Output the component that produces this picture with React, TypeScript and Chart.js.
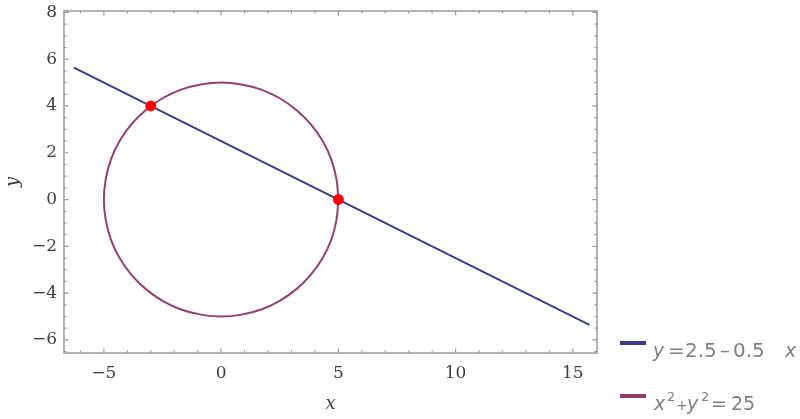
import React, { useEffect, useRef } from "react";
import { Chart, registerables } from "chart.js";

Chart.register(...registerables);

// ---- data ----
const xTickValues = [-5, 0, 5, 10, 15];
const yTickValues = [-6, -4, -2, 0, 2, 4, 6, 8];
const xMinorTicks = [-6, -5, -4, -3, -2, -1, 0, 1, 2, 3, 4, 5, 6, 7, 8, 9, 10, 11, 12, 13, 14, 15, 16];
const yMinorTicks = [-6.5, -6, -5.5, -5, -4.5, -4, -3.5, -3, -2.5, -2, -1.5, -1, -0.5, 0, 0.5, 1, 1.5, 2, 2.5, 3, 3.5, 4, 4.5, 5, 5.5, 6, 6.5, 7, 7.5, 8];

const lineX = [-6.28, 15.71];
const lineY = [5.64, -5.355];

const circleX = [5, 4.92, 4.7, 4.33, 3.83, 3.21, 2.5, 1.71, 0.87, 0, -0.87, -1.71, -2.5, -3.21, -3.83, -4.33, -4.7, -4.92, -5, -4.92, -4.7, -4.33, -3.83, -3.21, -2.5, -1.71, -0.87, 0, 0.87, 1.71, 2.5, 3.21, 3.83, 4.33, 4.7, 4.92, 5];
const circleY = [0, 0.87, 1.71, 2.5, 3.21, 3.83, 4.33, 4.7, 4.92, 5, 4.92, 4.7, 4.33, 3.83, 3.21, 2.5, 1.71, 0.87, 0, -0.87, -1.71, -2.5, -3.21, -3.83, -4.33, -4.7, -4.92, -5, -4.92, -4.7, -4.33, -3.83, -3.21, -2.5, -1.71, -0.87, 0];

const pointX = [-3, 5];
const pointY = [4, 0];

const X_MIN = -6.7;
const X_MAX = 16.03;
const Y_MIN = -6.56;
const Y_MAX = 8.06;

const LINE_COLOR = "#3c3c8e";
const CIRCLE_COLOR = "#953f6f";
const POINT_COLOR = "#ff0000";
const FRAME_COLOR = "#9a9a9a";
const TICK_TEXT = "#3f3f3f";
const LEGEND_TEXT = "#808080";

const fmt = (v: number) => (v < 0 ? "\u2212" + Math.abs(v) : String(v));

const framePlugin = {
  id: "frameTicks",
  afterDraw(chart: any) {
    const { ctx, chartArea } = chart;
    const { left, right, top, bottom } = chartArea;
    const xs = chart.scales.x;
    const ys = chart.scales.y;
    ctx.save();
    ctx.strokeStyle = FRAME_COLOR;
    ctx.lineWidth = 1.5;
    ctx.strokeRect(left, top, right - left, bottom - top);
    ctx.lineWidth = 1.2;
    ctx.beginPath();
    xMinorTicks.forEach((v) => {
      const px = xs.getPixelForValue(v);
      const len = xTickValues.includes(v) ? 4.5 : 2.5;
      ctx.moveTo(px, bottom);
      ctx.lineTo(px, bottom - len);
      ctx.moveTo(px, top);
      ctx.lineTo(px, top + len);
    });
    yMinorTicks.forEach((v) => {
      const py = ys.getPixelForValue(v);
      const len = yTickValues.includes(v) ? 4.5 : 2.5;
      ctx.moveTo(left, py);
      ctx.lineTo(left + len, py);
      ctx.moveTo(right, py);
      ctx.lineTo(right - len, py);
    });
    ctx.stroke();

    // legend
    ctx.lineWidth = 4;
    ctx.strokeStyle = LINE_COLOR;
    ctx.beginPath();
    ctx.moveTo(620, 343);
    ctx.lineTo(646, 343);
    ctx.stroke();
    ctx.strokeStyle = CIRCLE_COLOR;
    ctx.beginPath();
    ctx.moveTo(620, 396);
    ctx.lineTo(646, 396);
    ctx.stroke();

    ctx.fillStyle = LEGEND_TEXT;
    ctx.textBaseline = "alphabetic";
    ctx.textAlign = "left";
    const it = 'italic 19px "DejaVu Sans"';
    const rg = '20px "DejaVu Sans"';
    const rg2 = '19px "DejaVu Sans"';
    const small = '14px "DejaVu Sans"';
    const sup = '13px "DejaVu Sans"';
    const b1 = 357;
    ctx.font = it; ctx.fillText("y", 653, b1);
    ctx.font = rg; ctx.fillText("=", 668, b1);
    ctx.fillText("2.5", 685, b1);
    ctx.fillText("\u2013", 720, b1);
    ctx.fillText("0.5", 733, b1);
    ctx.font = it; ctx.fillText("x", 785, b1);

    const b2 = 410;
    ctx.font = it; ctx.fillText("x", 654, b2);
    ctx.font = sup; ctx.fillText("2", 667, b2 - 9);
    ctx.font = small; ctx.fillText("+", 676, b2);
    ctx.font = it; ctx.fillText("y", 687, b2);
    ctx.font = sup; ctx.fillText("2", 701, b2 - 9);
    ctx.font = rg2; ctx.fillText("=", 711, b2);
    ctx.fillText("25", 731, b2);
    ctx.restore();
  },
};

export default function App() {
  const ref = useRef<HTMLCanvasElement>(null);
  useEffect(() => {
    if (!ref.current) return;
    const chart = new Chart(ref.current, {
      type: "scatter",
      data: {
        datasets: [
          {
            label: "points",
            data: pointX.map((x, i) => ({ x, y: pointY[i] })),
            backgroundColor: POINT_COLOR,
            borderColor: POINT_COLOR,
            pointRadius: 5,
            showLine: false,
          },
          {
            label: "y = 2.5 - 0.5 x",
            data: lineX.map((x, i) => ({ x, y: lineY[i] })),
            borderColor: LINE_COLOR,
            borderWidth: 2,
            pointRadius: 0,
            showLine: true,
          },
          {
            label: "x^2 + y^2 = 25",
            data: circleX.map((x, i) => ({ x, y: circleY[i] })),
            borderColor: CIRCLE_COLOR,
            borderWidth: 2,
            pointRadius: 0,
            showLine: true,
            tension: 0.4,
          },
        ],
      },
      options: {
        animation: false,
        responsive: true,
        maintainAspectRatio: false,
        layout: { padding: { left: 0, top: 11, right: 203, bottom: 0 } },
        plugins: { legend: { display: false }, tooltip: { enabled: false } },
        scales: {
          x: {
            type: "linear",
            min: X_MIN,
            max: X_MAX,
            afterBuildTicks: (s: any) => {
              s.ticks = xTickValues.map((v) => ({ value: v }));
            },
            afterFit: (s: any) => {
              s.height = 66;
              s.paddingLeft = 0;
              s.paddingRight = 0;
            },
            grid: { display: false, drawTicks: false },
            border: { display: false },
            ticks: {
              padding: 10,
              color: TICK_TEXT,
              font: { family: "DejaVu Serif", size: 17 },
              callback: (v: any) => fmt(Number(v)),
            },
            title: {
              display: true,
              text: "x",
              color: TICK_TEXT,
              font: { family: "DejaVu Serif", size: 18, style: "italic" },
              padding: { top: 0, bottom: 4 },
            },
          },
          y: {
            type: "linear",
            min: Y_MIN,
            max: Y_MAX,
            afterBuildTicks: (s: any) => {
              s.ticks = yTickValues.map((v) => ({ value: v }));
            },
            afterFit: (s: any) => {
              s.width = 64;
              s.paddingTop = 0;
              s.paddingBottom = 0;
            },
            grid: { display: false, drawTicks: false },
            border: { display: false },
            ticks: {
              padding: 7,
              color: TICK_TEXT,
              font: { family: "DejaVu Serif", size: 17 },
              callback: (v: any) => fmt(Number(v)),
            },
            title: {
              display: true,
              text: "y",
              color: TICK_TEXT,
              font: { family: "DejaVu Serif", size: 18, style: "italic" },
              padding: { top: 3, bottom: 0 },
            },
          },
        },
      },
      plugins: [framePlugin],
    });
    return () => chart.destroy();
  }, []);
  return (
    <div style={{ position: "fixed", left: 0, top: 0, width: 800, height: 419, background: "#fff" }}>
      <canvas ref={ref} />
    </div>
  );
}
